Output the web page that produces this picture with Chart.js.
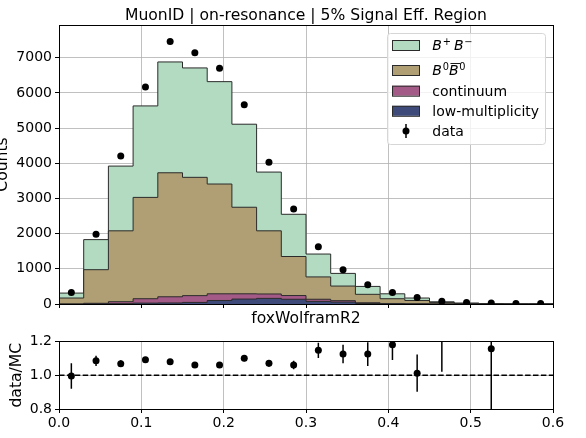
<!DOCTYPE html>
<html>
<head>
<meta charset="utf-8">
<title>foxWolframR2</title>
<script src="https://cdn.jsdelivr.net/npm/chart.js@4.4.1/dist/chart.umd.min.js"></script>
<style>
  html, body { margin: 0; padding: 0; background: #fff; }
  #wrap { position: relative; width: 586px; height: 438px; }
  #mainBox { position: absolute; left: 0; top: 0; width: 586px; height: 330px; }
  #ratioBox { position: absolute; left: 0; top: 330px; width: 586px; height: 108px; }
</style>
</head>
<body>
<div id="wrap">
  <div id="mainBox"><canvas id="mainChart"></canvas></div>
  <div id="ratioBox"><canvas id="ratioChart"></canvas></div>
</div>
<script>
// foxWolframR2 binning: 20 bins of 0.03
const binEdges = [0.00, 0.03, 0.06, 0.09, 0.12, 0.15, 0.18, 0.21, 0.24, 0.27, 0.30,
                  0.33, 0.36, 0.39, 0.42, 0.45, 0.48, 0.51, 0.54, 0.57, 0.60];
const binCenters = [0.015, 0.045, 0.075, 0.105, 0.135, 0.165, 0.195, 0.225, 0.255, 0.285,
                    0.315, 0.345, 0.375, 0.405, 0.435, 0.465, 0.495, 0.525, 0.555, 0.585];

// MC components (events per bin)
const lowMult   = [0, 5, 10, 25, 30, 45, 100, 140, 160, 135, 75, 55, 15, 5, 2, 0, 0, 0, 0, 0];
const continuum = [0, 15, 55, 125, 175, 193, 190, 150, 125, 105, 60, 40, 20, 10, 3, 2, 0, 0, 0, 0];
const bbNeutral = [170, 955, 2015, 2880, 3525, 3362, 3120, 2460, 1795, 1110, 635, 415, 240, 135, 95, 43, 15, 5, 0, 0];
const bbCharged = [140, 855, 1840, 2600, 3150, 3110, 2910, 2360, 1670, 1200, 650, 360, 225, 140, 70, 17, 13, 5, 0, 0];

// measured data
const dataCounts = [330, 1980, 4210, 6170, 7460, 7140, 6700, 5660, 4030, 2700,
                    1630, 970, 550, 330, 185, 75, 45, 25, 15, 15];

// data/MC ratio and its uncertainty (null where MC is empty)
const ratio    = [0.995, 1.085, 1.068, 1.091, 1.080, 1.060, 1.060, 1.100, 1.070, 1.060,
                  1.147, 1.125, 1.125, 1.180, 1.012, 1.35, 1.60, 1.156, null, null];
const ratioErr = [0.075, 0.030, 0.020, 0.013, 0.012, 0.012, 0.012, 0.018, 0.020, 0.025,
                  0.045, 0.055, 0.070, 0.090, 0.110, 0.33, 0.24, 0.50, null, null];
const unityLine = [1, 1];

// axis ticks
const countTicks = [0, 1000, 2000, 3000, 4000, 5000, 6000, 7000];
const xTicks = [0.0, 0.1, 0.2, 0.3, 0.4, 0.5, 0.6];
const ratioTicks = [0.8, 1.0, 1.2];

const titleText = 'MuonID | on-resonance | 5% Signal Eff. Region';

const colCharged = '#b2dbc1';
const colNeutral = '#b09f74';
const colContinuum = '#a45a87';
const colLowMult = '#3d4a7a';
const edgeColor = '#2b2b2b';
const gridColor = 'rgba(176,176,176,0.8)';
const FONT = '"DejaVu Sans", sans-serif';

Chart.defaults.font.family = FONT;
Chart.defaults.font.size = 14;
Chart.defaults.color = '#000';

const addArrays = (a, b) => a.map((v, i) => v + b[i]);
const stackBlue = lowMult;
const stackPink = addArrays(stackBlue, continuum);
const stackTan = addArrays(stackPink, bbNeutral);
const stackGreen = addArrays(stackTan, bbCharged);

// closed step outline for a histogram layer
function stepPoints(vals) {
    const last = binEdges.length - 1;
    const pts = [{ x: binEdges[0], y: 0 }];
    vals.forEach((v, i) => pts.push({ x: binEdges[i], y: v }));
    pts.push({ x: binEdges[last], y: vals[vals.length - 1] });
    pts.push({ x: binEdges[last], y: 0 });
    return pts;
}

function histLayer(label, vals, color, order) {
    return {
        type: 'line',
        label: label,
        data: stepPoints(vals),
        stepped: true,
        fill: 'origin',
        backgroundColor: color,
        borderColor: edgeColor,
        borderWidth: 1,
        pointRadius: 0,
        order: order
    };
}

const fixedTicks = (values) => (scale) => {
    scale.ticks = values.map(v => ({ value: v }));
};

// mathtext-ish label pieces
const legendEntries = [
    { kind: 'patch', color: colCharged, parts: [{ t: 'B', it: true }, { t: '+', sup: true }, { t: 'B', it: true }, { t: '\u2212', sup: true }] },
    { kind: 'patch', color: colNeutral, parts: [{ t: 'B', it: true }, { t: '0', sup: true }, { t: 'B', it: true, bar: true }, { t: '0', sup: true }] },
    { kind: 'patch', color: colContinuum, parts: [{ t: 'continuum' }] },
    { kind: 'patch', color: colLowMult, parts: [{ t: 'low-multiplicity' }] },
    { kind: 'data', parts: [{ t: 'data' }] }
];

function drawParts(ctx, parts, x, y) {
    parts.forEach(p => {
        const size = p.sup ? 9.8 : 14;
        const dy = p.sup ? -5.5 : 0;
        ctx.font = (p.it ? 'italic ' : '') + size + 'px ' + FONT;
        ctx.fillText(p.t, x, y + dy);
        const w = ctx.measureText(p.t).width;
        if (p.bar) {
            ctx.beginPath();
            ctx.lineWidth = 0.9;
            ctx.moveTo(x + 1.5, y - 11.5);
            ctx.lineTo(x + w + 2, y - 11.5);
            ctx.stroke();
        }
        x += w + (p.it ? 0.8 : 0) + (p.sup && p.t !== '0' ? 3 : 0);
    });
}

function frameArea(chart) {
    const { ctx, chartArea: a } = chart;
    ctx.save();
    ctx.strokeStyle = '#000';
    ctx.lineWidth = 1;
    ctx.strokeRect(Math.round(a.left) + 0.5, Math.round(a.top) + 0.5,
                   Math.round(a.right - a.left), Math.round(a.bottom - a.top));
    ctx.restore();
}

const mainDecor = {
    id: 'mainDecor',
    afterDraw(chart) {
        const { ctx, chartArea: a } = chart;
        frameArea(chart);

        ctx.save();
        ctx.fillStyle = '#000';
        ctx.font = '15.6px ' + FONT;
        ctx.textAlign = 'center';
        ctx.textBaseline = 'alphabetic';
        ctx.fillText(titleText, (a.left + a.right) / 2, 20);

        // legend box
        const bx = 387, by = 33, bw = 158, bh = 111;
        ctx.beginPath();
        ctx.roundRect(bx + 0.5, by + 0.5, bw, bh, 3);
        ctx.fillStyle = 'rgba(255,255,255,0.8)';
        ctx.fill();
        ctx.strokeStyle = '#d6d6d6';
        ctx.lineWidth = 1;
        ctx.stroke();

        const baselines = [50, 75, 95.7, 115.8, 136];
        ctx.textAlign = 'left';
        legendEntries.forEach((e, i) => {
            const yb = baselines[i];
            const yc = yb - 5;
            if (e.kind === 'patch') {
                ctx.fillStyle = e.color;
                ctx.fillRect(392, yc - 5, 28, 10);
                ctx.strokeStyle = edgeColor;
                ctx.lineWidth = 1;
                ctx.strokeRect(392.5, yc - 4.5, 27, 10);
            } else {
                ctx.strokeStyle = '#000';
                ctx.lineWidth = 1.5;
                ctx.beginPath();
                ctx.moveTo(406, yc - 7);
                ctx.lineTo(406, yc + 7);
                ctx.stroke();
                ctx.beginPath();
                ctx.arc(406, yc, 3.5, 0, Math.PI * 2);
                ctx.fillStyle = '#000';
                ctx.fill();
            }
            ctx.fillStyle = '#000';
            ctx.strokeStyle = '#000';
            drawParts(ctx, e.parts, 432.3, yb);
        });
        ctx.restore();
    }
};

const ratioDecor = {
    id: 'ratioDecor',
    afterDatasetsDraw(chart) {
        const { ctx, chartArea: a, scales } = chart;
        ctx.save();
        ctx.beginPath();
        ctx.rect(a.left, a.top, a.right - a.left, a.bottom - a.top);
        ctx.clip();
        ctx.strokeStyle = '#000';
        ctx.lineWidth = 1.5;
        ratio.forEach((r, i) => {
            if (r === null) return;
            const px = scales.x.getPixelForValue(binCenters[i]);
            ctx.beginPath();
            ctx.moveTo(px, scales.y.getPixelForValue(r - ratioErr[i]));
            ctx.lineTo(px, scales.y.getPixelForValue(r + ratioErr[i]));
            ctx.stroke();
        });
        ctx.restore();
    },
    afterDraw(chart) {
        frameArea(chart);
    }
};

const gridOpts = {
    color: gridColor,
    lineWidth: 1,
    tickColor: '#000',
    tickLength: 4
};

new Chart(document.getElementById('mainChart'), {
    type: 'line',
    data: {
        datasets: [
            {
                type: 'scatter',
                label: 'data',
                data: binCenters.map((x, i) => ({ x: x, y: dataCounts[i] })),
                backgroundColor: '#000',
                borderWidth: 0,
                pointRadius: 3.5,
                order: 0
            },
            histLayer('low-multiplicity', stackBlue, colLowMult, 1),
            histLayer('continuum', stackPink, colContinuum, 2),
            histLayer('B0B0bar', stackTan, colNeutral, 3),
            histLayer('B+B-', stackGreen, colCharged, 4)
        ]
    },
    options: {
        responsive: true,
        maintainAspectRatio: false,
        animation: false,
        devicePixelRatio: 1,
        layout: { padding: { top: 25, right: 33, bottom: 0, left: 0 } },
        plugins: {
            legend: { display: false },
            title: { display: false },
            tooltip: { enabled: false }
        },
        scales: {
            x: {
                type: 'linear',
                min: 0,
                max: 0.6,
                z: 1,
                grid: gridOpts,
                border: { display: false },
                ticks: { display: false },
                afterBuildTicks: fixedTicks(xTicks),
                title: {
                    display: true,
                    text: 'foxWolframR2',
                    font: { size: 15.6 },
                    padding: { top: 0, bottom: 2 }
                },
                afterFit: (scale) => { scale.height = 26; }
            },
            y: {
                min: 0,
                max: 7930,
                z: 1,
                grid: gridOpts,
                border: { display: false },
                ticks: { padding: 3, callback: (v) => String(v) },
                afterBuildTicks: fixedTicks(countTicks),
                title: {
                    display: true,
                    text: 'Counts',
                    font: { size: 15.6 },
                    padding: { top: -6, bottom: 0 }
                },
                afterFit: (scale) => { scale.width = 59; }
            }
        }
    },
    plugins: [mainDecor]
});

new Chart(document.getElementById('ratioChart'), {
    type: 'line',
    data: {
        datasets: [
            {
                type: 'scatter',
                label: 'data/MC',
                data: binCenters.map((x, i) => ({ x: x, y: ratio[i] })).filter(p => p.y !== null),
                backgroundColor: '#000',
                borderWidth: 0,
                pointRadius: 3.5,
                clip: 4,
                order: 0
            },
            {
                type: 'line',
                label: 'unity',
                data: [binEdges[0], binEdges[binEdges.length - 1]].map((x, i) => ({ x: x, y: unityLine[i] })),
                borderColor: '#000',
                borderWidth: 1.5,
                borderDash: [5.5, 2.4],
                pointRadius: 0,
                fill: false,
                order: 1
            }
        ]
    },
    options: {
        responsive: true,
        maintainAspectRatio: false,
        animation: false,
        devicePixelRatio: 1,
        layout: { padding: { top: 10, right: 33, bottom: 0, left: 0 } },
        plugins: {
            legend: { display: false },
            title: { display: false },
            tooltip: { enabled: false }
        },
        scales: {
            x: {
                type: 'linear',
                min: 0,
                max: 0.6,
                grid: gridOpts,
                border: { display: false },
                ticks: {
                    autoSkip: false,
                    maxRotation: 0,
                    padding: 2,
                    callback: (v) => v.toFixed(1)
                },
                afterBuildTicks: fixedTicks(xTicks),
                afterFit: (scale) => { scale.height = 29; }
            },
            y: {
                min: 0.8,
                max: 1.2,
                grid: gridOpts,
                border: { display: false },
                ticks: { padding: 3, callback: (v) => v.toFixed(1) },
                afterBuildTicks: fixedTicks(ratioTicks),
                title: {
                    display: true,
                    text: 'data/MC',
                    font: { size: 15.6 },
                    padding: { top: 8, bottom: 0 }
                },
                afterFit: (scale) => { scale.width = 59; }
            }
        }
    },
    plugins: [ratioDecor]
});
</script>
</body>
</html>
